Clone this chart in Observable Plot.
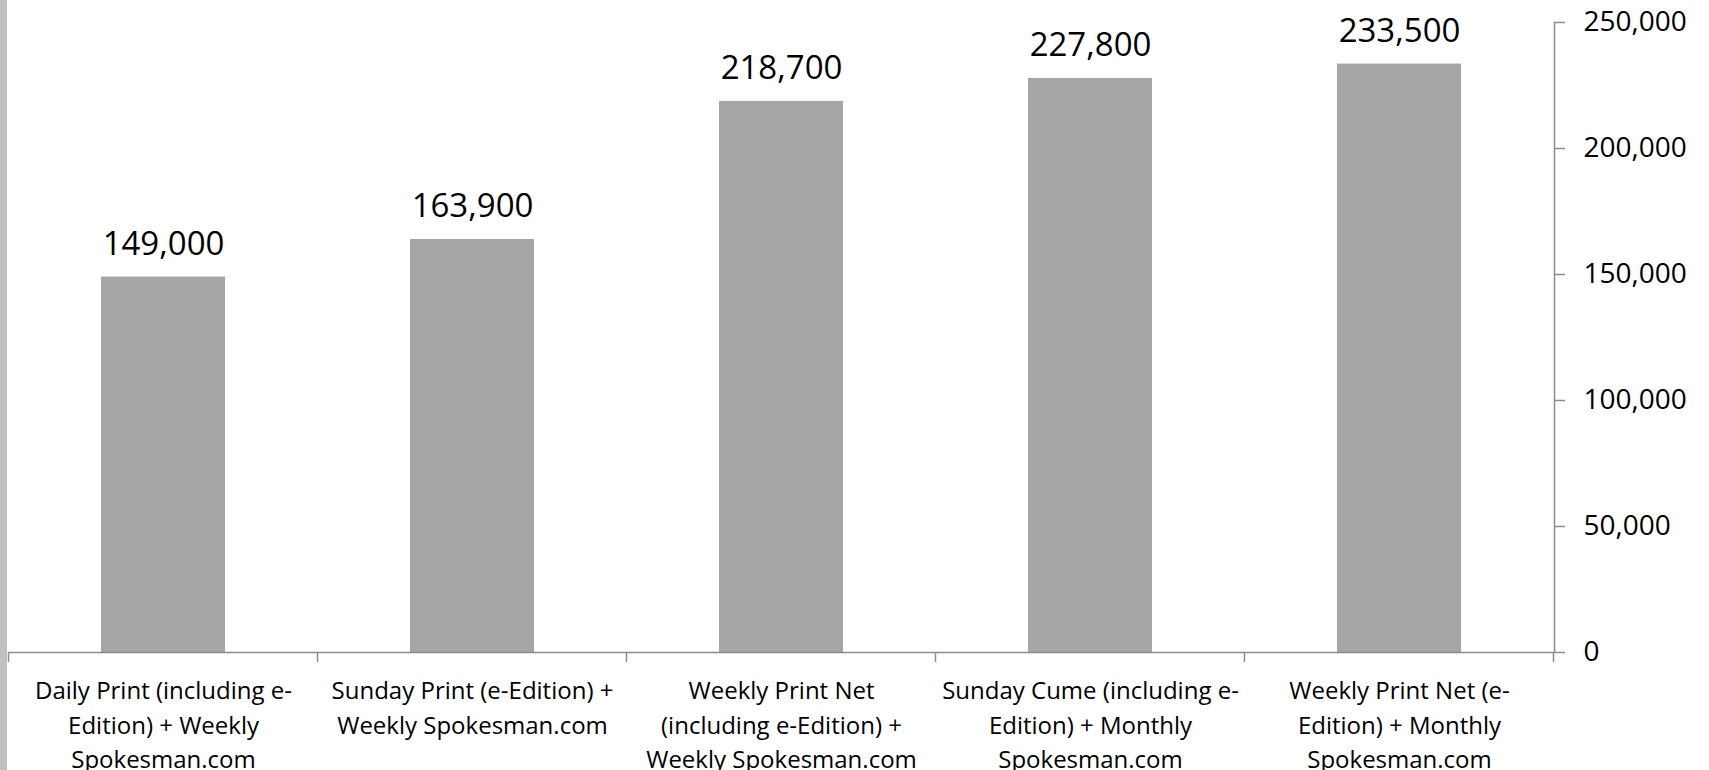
<!DOCTYPE html>
<html>
<head>
<meta charset="utf-8">
<script src="https://cdn.jsdelivr.net/npm/d3@7"></script>
<script src="https://cdn.jsdelivr.net/npm/@observablehq/plot@0.6"></script>
<style>
  html, body { margin: 0; padding: 0; background: #fff; }
  #chart { position: relative; width: 1709px; height: 770px; }
  #strip { position: absolute; left: 0; top: 0; width: 7px; height: 770px; background: #c0c0c0; }
  svg { font-family: "Open Sans", sans-serif; }
</style>
</head>
<body>
<div id="chart"><div id="strip"></div></div>
<script>
const categories = [
  "Daily Print (including e-\nEdition) + Weekly\nSpokesman.com",
  "Sunday Print (e-Edition) +\nWeekly Spokesman.com",
  "Weekly Print Net\n(including e-Edition) +\nWeekly Spokesman.com",
  "Sunday Cume (including e-\nEdition) + Monthly\nSpokesman.com",
  "Weekly Print Net (e-\nEdition) + Monthly\nSpokesman.com"
];
const values = [149000, 163900, 218700, 227800, 233500];
const yTicks = [0, 50000, 100000, 150000, 200000, 250000];

const data = categories.map((c, i) => ({category: c, value: values[i]}));
const axisGray = "#8c8c8c";

function boundaryTicks(index, scales, vals, dimensions) {
  const x = scales.x;
  const step = x.step();
  const gap = step - x.bandwidth();
  const y0 = scales.y(0);
  const g = d3.create("svg:g");
  const edges = categories.map(c => x(c) - gap / 2);
  edges.push(x(categories[categories.length - 1]) + x.bandwidth() + gap / 2);
  for (const e of edges) {
    g.append("line")
      .attr("x1", e).attr("x2", e)
      .attr("y1", y0).attr("y2", y0 + 10)
      .attr("stroke", axisGray).attr("stroke-width", 1.5);
  }
  return g.node();
}

const plot = Plot.plot({
  width: 1709,
  height: 770,
  marginLeft: 8,
  marginRight: 155,
  marginTop: 22,
  marginBottom: 118,
  style: {fontFamily: "'Open Sans', sans-serif", background: "transparent"},
  x: {domain: categories, paddingInner: 0.6, paddingOuter: 0.3, axis: null},
  y: {domain: [0, 250000], axis: null},
  marks: [
    Plot.barY(data, {x: "category", y: "value", fill: "#a6a6a6"}),
    Plot.ruleY([0], {stroke: axisGray, strokeWidth: 1.5}),
    Plot.frame({anchor: "right", stroke: axisGray, strokeWidth: 1.5}),
    boundaryTicks,
    Plot.axisY({
      anchor: "right",
      ticks: yTicks,
      tickFormat: d3.format(","),
      tickSize: 10,
      tickPadding: 19,
      fontSize: 28,
      stroke: axisGray,
      strokeWidth: 1.5,
      fill: "black",
      label: null
    }),
    Plot.text(data, {
      x: "category", y: "value",
      text: d => d3.format(",")(d.value),
      dy: -22, lineAnchor: "bottom",
      fontSize: 33, fill: "black"
    }),
    Plot.text(data, {
      x: "category", y: () => 0,
      text: "category",
      dy: 22, lineAnchor: "top", lineHeight: 1.44,
      fontSize: 24, fill: "black"
    })
  ]
});
document.getElementById("chart").appendChild(plot);
</script>
</body>
</html>
